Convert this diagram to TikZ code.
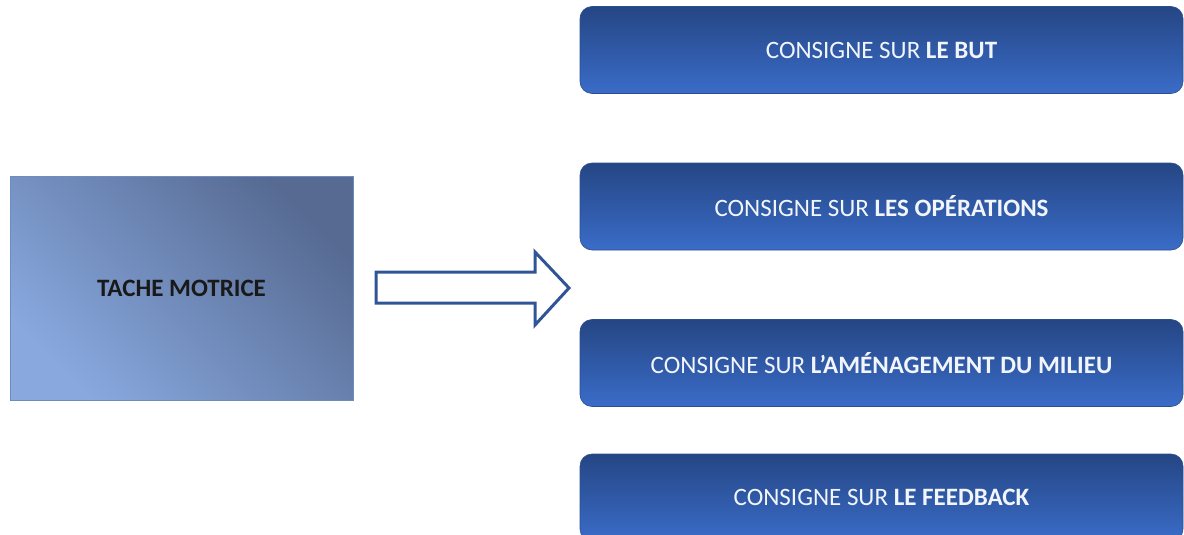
\documentclass[tikz,border=0pt]{standalone}
\usepackage{fontspec}
\setmainfont{Carlito}
\definecolor{btop}{HTML}{254684}
\definecolor{bbot}{HTML}{3A6CC8}
\definecolor{bdraw}{HTML}{2A4F8F}
\definecolor{tdark}{HTML}{566A92}
\definecolor{tlight}{HTML}{88A8DE}
\definecolor{tdraw}{HTML}{6F8CBF}
\definecolor{arrowc}{HTML}{2F5597}
\definecolor{btext}{HTML}{F2F5FB}
\begin{document}
\begin{tikzpicture}[x=1pt,y=-1pt]
\tikzset{
  consigne/.style={rounded corners=12pt, top color=btop, bottom color=bbot,
    draw=bdraw, line width=0.6pt, minimum width=603pt, minimum height=87pt,
    text=btext, font=\fontsize{25}{29}\selectfont, inner sep=0pt},
  tache/.style={shading=axis, top color=tdark, bottom color=tlight, shading angle=-45,
    draw=tdraw, line width=0.8pt, minimum width=343pt, minimum height=224pt,
    text=black!90, font=\fontsize{25}{29}\selectfont\bfseries, inner sep=0pt},
  blockarrow/.style={draw=arrowc, line width=3pt, line join=miter}
}
\useasboundingbox (0,0) rectangle (1184,535);
\clip (0,0) rectangle (1184,535);
\node[tache] (tm) at (181.5,288) {TACHE MOTRICE};
\node[consigne] (b1) at (881.5,50) {CONSIGNE SUR \textbf{LE BUT}};
\node[consigne] (b2) at (881.5,206.5) {CONSIGNE SUR \textbf{LES OPÉRATIONS}};
\node[consigne] (b3) at (881.5,363) {CONSIGNE SUR \textbf{L’AMÉNAGEMENT DU MILIEU}};
\node[consigne] (b4) at (881.5,497.5) {CONSIGNE SUR \textbf{LE FEEDBACK}};
\draw[blockarrow] (376,272) -- (535,272) -- (535,252) -- (569,288) -- (535,325) -- (535,303) -- (376,303) -- cycle;
\end{tikzpicture}
\end{document}
